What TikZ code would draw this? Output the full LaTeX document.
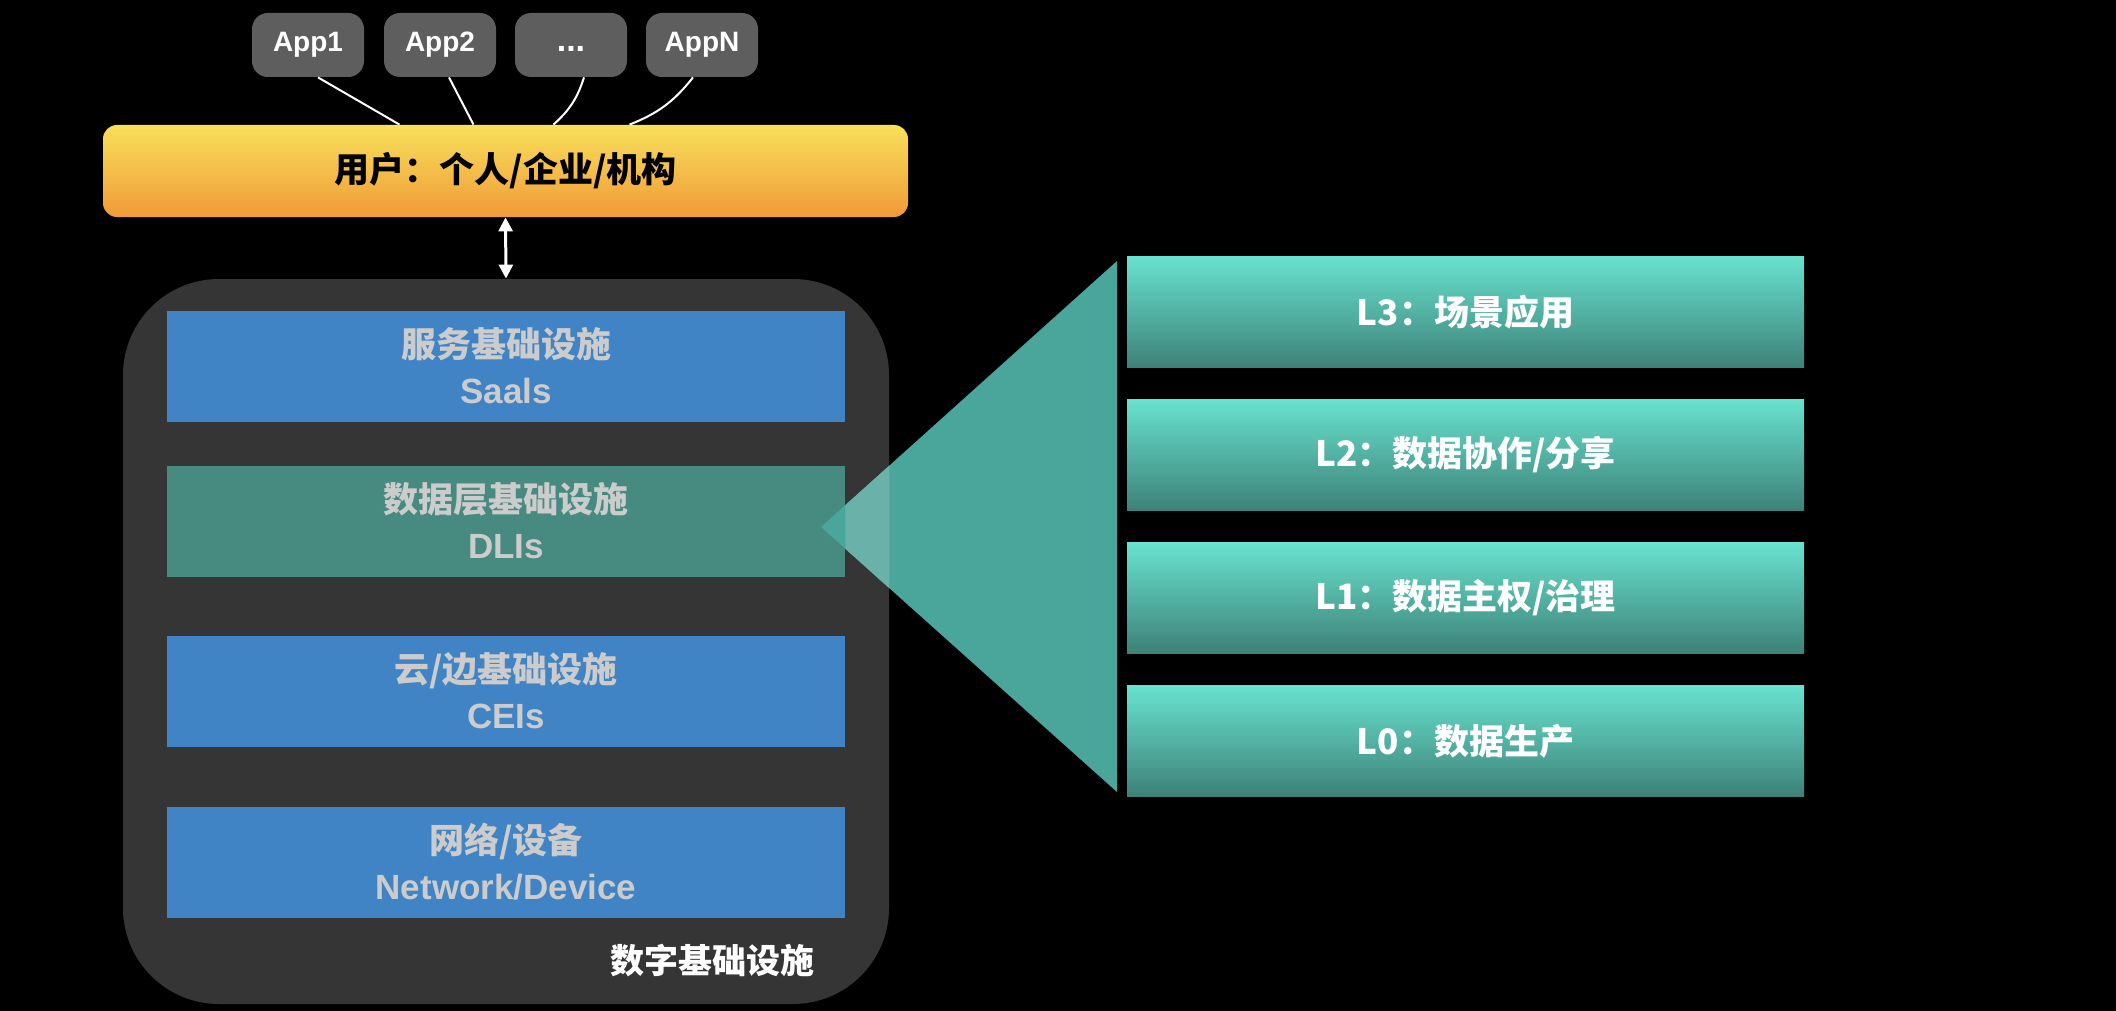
\documentclass[tikz,border=0pt]{standalone}
\usepackage{fontspec}
\setmainfont{Liberation Sans}
\newfontfamily\cjk{Noto Sans CJK SC}
\usetikzlibrary{arrows.meta}

\definecolor{appgray}{HTML}{5E5E5E}
\definecolor{barTop}{HTML}{F8E05A}
\definecolor{barBot}{HTML}{F09A38}
\definecolor{infragray}{HTML}{353535}
\definecolor{layblue}{HTML}{4084C5}
\definecolor{laygreen}{HTML}{468A80}
\definecolor{laytext}{HTML}{CCCCCC}
\definecolor{lvTop}{HTML}{68E2CE}
\definecolor{lvBot}{HTML}{3D8178}
\definecolor{tri}{HTML}{4AA59A}
\definecolor{trilight}{HTML}{6AB2A9}

\begin{document}
\begin{tikzpicture}[x=0.5pt,y=-0.5pt,
  app/.style={fill=appgray, rounded corners=8pt, minimum width=56pt, minimum height=32pt,
    text=white, font=\bfseries\fontsize{14}{16}\selectfont},
  user/.style={top color=barTop, bottom color=barBot, rounded corners=7pt,
    minimum width=402.5pt, minimum height=46pt, text=black, font=\cjk\bfseries\fontsize{17.5}{20}\selectfont},
  infra/.style={fill=infragray, rounded corners=48pt, minimum width=383pt, minimum height=362.5pt},
  layer/.style={minimum width=339pt, minimum height=55.5pt, text=laytext, align=center,
    font=\bfseries\fontsize{17.5}{23}\selectfont},
  level/.style={top color=lvTop, bottom color=lvBot, minimum width=338.5pt, minimum height=55.5pt,
    text=white, font=\cjk\bfseries\fontsize{17.5}{20}\selectfont},
  wire/.style={white, line width=1pt}
]

\fill[black] (0,0) rectangle (2116,1011);

\node[app] (app1) at (308,45) {App1};
\node[app] (app2) at (440,45) {App2};
\node[app] (appdots) at (571,45) {\vphantom{App1}{\fontsize{17}{17}\selectfont ...}};
\node[app] (appn) at (702,45) {AppN};

\node[user] (user) at (505.5,171) {用户：个人/企业/机构};

\draw[wire] ([xshift=5pt]app1.south) -- ([xshift=-53pt]user.north);
\draw[wire] ([xshift=4.5pt]app2.south) -- ([xshift=-16pt]user.north);
\draw[wire] ([xshift=6.5pt]appdots.south) to[bend left=15] ([xshift=24pt]user.north);
\draw[wire] ([xshift=-4.5pt]appn.south) to[bend left=15] ([xshift=62pt]user.north);

\node[infra] (infra) at (506,641.5) {};

\draw[{Triangle[length=7pt,width=7pt]}-{Triangle[length=7pt,width=7pt]}, white, line width=1.5pt]
  (user.south) -- (infra.north);

\node[layer, fill=layblue] (lay1) at (506,366) {{\cjk 服务基础设施}\\Saals};
\node[layer, fill=laygreen] (lay2) at (506,521) {{\cjk 数据层基础设施}\\DLIs};
\node[layer, fill=layblue] (lay3) at (506,691) {{\cjk 云/边基础设施}\\CEIs};
\node[layer, fill=layblue] (lay4) at (506,862) {{\cjk 网络/设备}\\Network/Device};

\node[text=white, font=\cjk\bfseries\fontsize{17}{20}\selectfont] (infralabel) at (712,961) {数字基础设施};

\coordinate (apex) at (821,527);
\coordinate (tritop) at (1117,261);
\coordinate (tribot) at (1117,792);
\fill[tri] (apex) -- (tritop) -- (tribot) -- cycle;
\begin{scope}
\clip (lay2.east |- infra.north) rectangle (infra.south east);
\fill[trilight] (apex) -- (tritop) -- (tribot) -- cycle;
\end{scope}

\node[level] (lv3) at (1465.5,312) {L3：场景应用};
\node[level] (lv2) at (1465.5,455) {L2：数据协作/分享};
\node[level] (lv1) at (1465.5,598) {L1：数据主权/治理};
\node[level] (lv0) at (1465.5,741) {L0：数据生产};

\end{tikzpicture}
\end{document}
